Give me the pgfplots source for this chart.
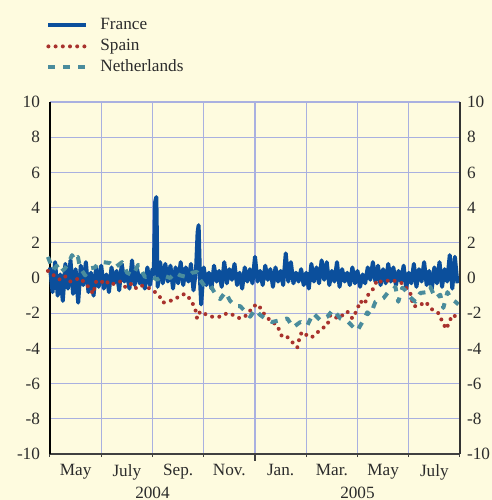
\documentclass[border=0pt]{standalone}
\usepackage{fontspec}
\setmainfont{Liberation Serif}
\usepackage{pgfplots}
\pgfplotsset{compat=1.18}

\definecolor{bgc}{HTML}{FEFBDF}
\definecolor{gridc}{HTML}{A9B0E0}
\definecolor{fra}{HTML}{0B4F9C}
\definecolor{spa}{HTML}{A8322D}
\definecolor{ned}{HTML}{4A8C9C}
\definecolor{txt}{HTML}{2B2B2B}

\tikzset{
  basefont/.style={font=\fontsize{8.6}{10}\selectfont, text=txt},
}

\begin{document}
\begin{tikzpicture}
\fill[bgc] (-25pt,-23pt) rectangle (221pt,227pt);

\begin{axis}[
  scale only axis,
  width=205pt, height=176pt,
  xmin=0, xmax=16, ymin=-10, ymax=10,
  xtick={0,2,...,16},
  xticklabels={May,July,Sep.,Nov.,Jan.,Mar.,May,July},
  x tick label as interval,
  ytick={-10,-8,...,10},
  yticklabels={-10,-8,-6,-4,-2,0,2,4,6,8,10},
  tick label style={basefont},
  axis x line*=bottom,
  axis y line*=left,
  x axis line style={draw=black!75, line width=0.65pt},
  y axis line style={draw=black, line width=0.75pt},
  ytick style={draw=none},
  xtick style={draw=black!75, line width=0.5pt},
  tick align=outside,
  major tick length=1.5pt,
  grid=major,
  major grid style={draw=gridc, line width=0.6pt},
  clip=false,
  legend style={
    at={([xshift=-5pt,yshift=44.5pt]rel axis cs:0,1)},
    anchor=north west,
    draw=none, fill=none,
    basefont,
    row sep=2.5pt,
    column sep=4pt,
    nodes={inner ysep=0pt, text height=6pt, text depth=2pt},
  },
  legend cell align=left,
  legend image code/.code={\draw[#1] (0pt,0pt) -- (19pt,0pt);},
]
% France
\addplot[fra, line width=2pt, line join=round] coordinates {
(0.0,0.6) (0.1,-0.8) (0.2,0.9) (0.3,-1.0) (0.4,0.2) (0.5,-1.3) (0.6,0.8) (0.7,-0.6) (0.8,1.0) (0.9,-0.9)
(1.0,0.5) (1.1,-1.4) (1.2,0.7) (1.3,-0.4) (1.4,0.9) (1.5,-0.8) (1.6,0.3) (1.7,-1.0) (1.8,0.6) (1.9,-0.5)
(2.0,0.7) (2.1,-0.6) (2.2,0.2) (2.3,-0.8) (2.4,0.6) (2.5,-0.3) (2.6,0.4) (2.7,-0.7) (2.8,0.8) (2.9,-0.2)
(3.0,0.3) (3.1,-0.6) (3.2,1.0) (3.3,-0.4) (3.4,0.5) (3.5,-0.3) (3.6,0.2) (3.7,-0.6) (3.8,0.6) (3.9,-0.4)
(4.0,0.5) (4.05,0.2) (4.1,4.3) (4.15,4.6) (4.2,-0.5) (4.3,0.9) (4.4,-0.3) (4.5,0.8) (4.6,-0.2) (4.7,0.7)
(4.8,-0.6) (4.9,0.6) (5.0,-0.3) (5.1,0.9) (5.2,-0.4) (5.3,0.6) (5.4,-0.2) (5.5,0.8) (5.6,-0.7) (5.7,0.5)
(5.76,2.6) (5.8,3.0) (5.86,-0.3) (5.9,-1.5) (6.0,0.6) (6.1,-0.4) (6.2,0.3) (6.3,-0.6) (6.4,0.7) (6.5,-0.2)
(6.6,0.4) (6.7,-0.5) (6.8,0.9) (6.9,-0.3) (7.0,0.5) (7.1,-0.1) (7.2,0.8) (7.3,-0.4) (7.4,0.3) (7.5,-0.6)
(7.6,0.6) (7.7,-0.2) (7.8,0.5) (7.9,-0.3) (8.0,1.2) (8.1,-0.2) (8.2,0.4) (8.3,-0.4) (8.4,0.7) (8.5,-0.1)
(8.6,0.5) (8.7,-0.5) (8.8,0.6) (8.9,-0.2) (9.0,0.4) (9.1,-0.4) (9.2,1.4) (9.3,-0.2) (9.4,0.9) (9.5,-0.3)
(9.6,0.3) (9.7,-0.2) (9.8,0.5) (9.9,-0.4) (10.0,0.3) (10.1,-0.6) (10.2,0.8) (10.3,-0.2) (10.4,0.6) (10.5,-0.3)
(10.6,1.0) (10.7,-0.1) (10.8,0.9) (10.9,-0.4) (11.0,0.4) (11.1,-0.2) (11.2,0.9) (11.3,-0.5) (11.4,0.5) (11.5,-0.2)
(11.6,0.3) (11.7,-0.4) (11.8,0.6) (11.9,-0.3) (12.0,0.4) (12.1,-0.5) (12.2,0.2) (12.3,-0.3) (12.4,0.6) (12.5,-0.1)
(12.6,0.9) (12.7,-0.2) (12.8,0.7) (12.9,-0.4) (13.0,0.5) (13.1,-0.3) (13.2,0.8) (13.3,-0.2) (13.4,0.6) (13.5,-0.4)
(13.6,0.4) (13.7,-0.2) (13.8,0.7) (13.9,-0.6) (14.0,0.3) (14.1,-0.3) (14.2,0.8) (14.3,-0.5) (14.4,0.5) (14.5,-0.2)
(14.6,0.9) (14.7,-0.4) (14.8,0.4) (14.9,-0.6) (15.0,0.6) (15.1,-0.3) (15.2,0.9) (15.3,-0.5) (15.4,0.5) (15.5,-0.2)
(15.6,1.3) (15.7,-0.6) (15.8,1.2) (15.9,-0.3)
};
% Spain
\addplot[spa, line width=2pt, line cap=round, dash pattern=on 0pt off 3.6pt] coordinates {
(-0.08,0.4) (0.08,0.2) (0.23,0.1) (0.39,-0.1) (0.59,0.1) (0.78,-0.2) (0.98,-0.1) (1.17,0.0)
(1.37,-0.3) (1.56,-0.6) (1.68,-0.9) (1.8,-0.2) (1.95,-0.3) (2.15,-0.1) (2.34,-0.4) (2.54,-0.3)
(2.73,-0.2) (2.93,-0.5) (3.13,-0.3) (3.32,-0.6) (3.52,-0.4) (3.71,-0.5) (3.91,-0.6) (4.1,-0.8)
(4.3,-1.1) (4.41,-1.4) (4.69,-1.3) (4.88,-1.2) (5.08,-1.0) (5.27,-0.9) (5.47,-1.2) (5.66,-1.7)
(5.74,-2.3) (5.86,-1.9) (6.13,-2.1) (6.33,-2.2) (6.64,-2.2) (6.91,-2.0) (7.15,-2.1) (7.42,-2.3)
(7.7,-2.1) (7.93,-1.6) (8.13,-1.5) (8.28,-1.9) (8.44,-2.2) (8.59,-2.4) (8.87,-2.7) (9.06,-3.35)
(9.26,-3.35) (9.49,-3.7) (9.65,-3.95) (9.77,-3.2) (9.88,-3.05) (10.08,-3.35) (10.23,-3.35) (10.43,-3.1)
(10.63,-2.85) (10.82,-2.7) (10.94,-2.1) (11.25,-2.3) (11.6,-1.9) (11.8,-2.3) (11.99,-1.8) (12.1,-1.3)
(12.27,-1.5) (12.42,-0.95) (12.62,-0.6) (12.77,-0.1) (12.89,-0.2) (13.09,-0.2) (13.28,-0.1) (13.55,-0.2)
(13.75,-0.3) (13.87,-0.5) (14.06,-0.85) (14.18,-1.6) (14.38,-1.6) (14.65,-1.35) (14.92,-1.8) (15.16,-2.0)
(15.35,-2.6) (15.47,-2.9) (15.55,-2.6) (15.7,-2.1) (15.86,-2.2)
};
% Netherlands
\addplot[ned, line width=2pt, dash pattern=on 3.5pt off 4pt, line join=round] coordinates {
(-0.08,1.2) (0,0.9) (0.12,0.45) (0.27,0.7) (0.39,0.3) (0.59,0.55) (0.74,0.9) (0.86,1.3)
(0.98,1.0) (1.09,1.2) (1.17,0.6) (1.37,0.15) (1.56,0.55) (1.76,0.6) (1.88,0.85) (2.07,0.9)
(2.34,0.85) (2.54,0.6) (2.81,0.9) (3.01,0.3) (3.24,0.15) (3.44,0.75) (3.71,0.05) (3.91,0.15)
(4.18,-0.1) (4.41,0.15) (4.69,0.0) (4.88,0.3) (5.08,0.15) (5.35,0.05) (5.55,0.3) (5.74,0.35)
(5.86,-0.1) (6.05,-0.5) (6.25,-0.4) (6.45,-0.9) (6.64,-1.2) (6.84,-0.8) (7.03,-1.3) (7.23,-1.6)
(7.42,-1.6) (7.62,-1.9) (7.81,-2.2) (8.01,-1.8) (8.2,-2.1) (8.4,-2.3) (8.67,-2.5) (8.98,-2.4)
(9.26,-2.3) (9.49,-2.8) (9.77,-2.5) (10.04,-2.7) (10.27,-2.0) (10.55,-2.4) (10.82,-2.2) (11.05,-1.8)
(11.33,-2.3) (11.64,-2.5) (11.84,-2.8) (11.99,-3.0) (12.19,-2.5) (12.38,-1.95) (12.5,-2.1) (12.7,-1.35)
(12.89,-1.25) (13.01,-1.15) (13.2,-0.8) (13.36,-0.7) (13.48,-0.5) (13.59,-1.35) (13.75,-0.55) (13.95,-0.8)
(14.06,-1.1) (14.26,-1.35) (14.45,-0.85) (14.73,-0.8) (14.84,-0.5) (15.04,-1.15) (15.23,-0.95) (15.35,-1.7)
(15.51,-0.8) (15.63,-1.15) (15.82,-1.35) (15.94,-1.5)
};
\legend{France,Spain,Netherlands}
\draw[black!75, line width=0.65pt] (axis cs:8,-10) -- ([yshift=-3.5pt]axis cs:8,-10);
\node[basefont, anchor=north] at ([yshift=-13pt]axis cs:4,-10) {2004};
\node[basefont, anchor=north] at ([yshift=-13pt]axis cs:12,-10) {2005};
\end{axis}

\begin{axis}[
  scale only axis,
  width=205pt, height=176pt,
  xmin=0, xmax=16, ymin=-10, ymax=10,
  hide x axis,
  axis y line*=right,
  y axis line style={draw=black!80, line width=0.75pt},
  ytick={-10,-8,...,10},
  yticklabels={-10,-8,-6,-4,-2,0,2,4,6,8,10},
  yticklabel style={basefont},
  ytick style={draw=none},
]
\end{axis}

\pgfresetboundingbox
\path (-25pt,-23pt) rectangle (221pt,227pt);
\end{tikzpicture}
\end{document}
